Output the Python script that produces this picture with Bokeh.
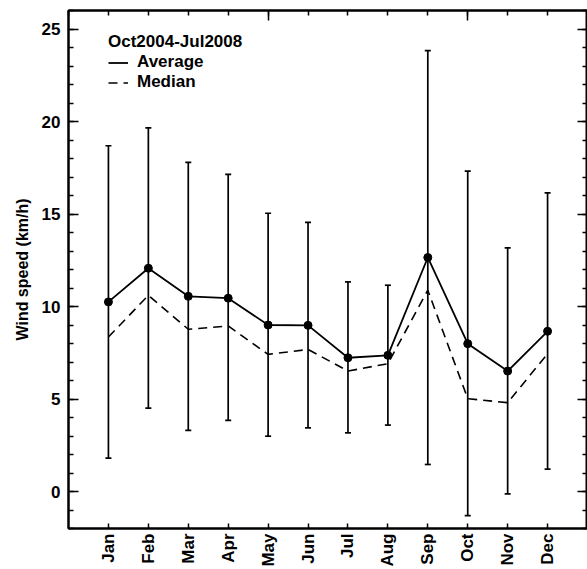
import math

from bokeh.plotting import figure
from bokeh.models import (ColumnDataSource, Whisker, TeeHead, FixedTicker,
                          LinearAxis, Legend, LegendItem, Range1d)
from bokeh.embed import file_html
from bokeh.resources import INLINE

# Monthly wind speed statistics, Oct 2004 - Jul 2008 (km/h)
months = ["Jan", "Feb", "Mar", "Apr", "May", "Jun",
          "Jul", "Aug", "Sep", "Oct", "Nov", "Dec"]
month_num = list(range(1, 13))
average = [10.25, 12.07, 10.55, 10.45, 9.0, 8.98, 7.23, 7.36, 12.65, 7.99, 6.51, 8.66]
median = [8.35, 10.6, 8.77, 8.95, 7.41, 7.68, 6.51, 6.91, 10.88, 5.02, 4.8, 7.45]
upper = [18.69, 19.66, 17.79, 17.14, 15.04, 14.55, 11.33, 11.15, 23.83, 17.32, 13.17, 16.14]
lower = [1.8, 4.51, 3.3, 3.84, 2.99, 3.44, 3.17, 3.59, 1.46, -1.3, -0.13, 1.21]

y_major = [0, 5, 10, 15, 20, 25]
y_minor = list(range(-2, 27))
x_major_top = [5, 10]
x_minor_top = list(range(0, 14))

FONT = "Liberation Sans"
FS = "17px"
INK = "black"

src = ColumnDataSource(dict(x=month_num, avg=average, med=median,
                            up=upper, lo=lower))

p = figure(width=587, height=569, output_backend="svg", toolbar_location=None,
           x_range=Range1d(0, 13), y_range=Range1d(-2, 26),
           min_border_left=68, min_border_right=0, min_border_top=10,
           min_border_bottom=41, x_axis_location="below")
p.xgrid.visible = False
p.ygrid.visible = False
p.outline_line_color = INK
p.outline_line_width = 2
p.background_fill_color = "white"
p.border_fill_color = "white"

# bottom axis: month names, rotated
xb = p.xaxis[0]
xb.ticker = FixedTicker(ticks=month_num, minor_ticks=[])
xb.major_label_overrides = {m: name for m, name in zip(month_num, months)}
xb.major_label_orientation = math.pi / 2
xb.major_tick_in = 5
xb.major_tick_out = 0
xb.major_label_standoff = 5
xb.axis_line_width = 2
xb.axis_line_color = INK
xb.major_tick_line_width = 1.5
xb.major_tick_line_color = INK
xb.major_label_text_font = FONT
xb.major_label_text_font_style = "bold"
xb.major_label_text_font_size = FS
xb.major_label_text_color = INK

# left axis
yl = p.yaxis[0]
yl.ticker = FixedTicker(ticks=y_major, minor_ticks=y_minor)
yl.major_tick_in = 10
yl.major_tick_out = 0
yl.minor_tick_in = 5
yl.minor_tick_out = 0
yl.axis_line_width = 2
yl.axis_line_color = INK
yl.major_tick_line_width = 1.5
yl.minor_tick_line_width = 1.5
yl.major_tick_line_color = INK
yl.minor_tick_line_color = INK
yl.major_label_standoff = 8
yl.major_label_text_font = FONT
yl.major_label_text_font_style = "bold"
yl.major_label_text_font_size = FS
yl.major_label_text_color = INK
yl.axis_label = "Wind speed (km/h)"
yl.axis_label_text_font = FONT
yl.axis_label_text_font_style = "bold"
yl.axis_label_text_font_size = "16px"
yl.axis_label_text_color = INK
yl.axis_label_standoff = 8

# mirrored tick marks on top and right, no labels
top = LinearAxis(ticker=FixedTicker(ticks=x_major_top, minor_ticks=x_minor_top),
                 major_tick_in=10, major_tick_out=0, minor_tick_in=5, minor_tick_out=0,
                 major_label_text_font_size="0px", major_label_standoff=0,
                 axis_line_width=2, axis_line_color=INK,
                 major_tick_line_width=1.5, minor_tick_line_width=1.5,
                 major_tick_line_color=INK, minor_tick_line_color=INK)
top.major_label_overrides = {t: "" for t in x_major_top}
p.add_layout(top, "above")

right = LinearAxis(ticker=FixedTicker(ticks=y_major, minor_ticks=y_minor),
                   major_tick_in=10, major_tick_out=0, minor_tick_in=5, minor_tick_out=0,
                   major_label_text_font_size="0px", major_label_standoff=0,
                   axis_line_width=2, axis_line_color=INK,
                   major_tick_line_width=1.5, minor_tick_line_width=1.5,
                   major_tick_line_color=INK, minor_tick_line_color=INK)
right.major_label_overrides = {t: "" for t in y_major}
p.add_layout(right, "right")

# error bars
wh = Whisker(base="x", upper="up", lower="lo", source=src,
             line_color=INK, line_width=1.7,
             upper_head=TeeHead(size=6, line_width=1.7, line_color=INK),
             lower_head=TeeHead(size=6, line_width=1.7, line_color=INK))
p.add_layout(wh)

avg_line = p.line("x", "avg", source=src, line_color=INK, line_width=1.8)
med_line = p.line("x", "med", source=src, line_color=INK, line_width=1.6,
                  line_dash="9 6")
p.scatter("x", "avg", source=src, size=8, color=INK)

legend = Legend(items=[LegendItem(label="Average", renderers=[avg_line]),
                       LegendItem(label="Median", renderers=[med_line])],
                location=(40, 436), title="Oct2004-Jul2008",
                title_text_font=FONT, title_text_font_style="bold",
                title_text_font_size=FS, title_text_color=INK, title_standoff=0,
                label_text_font=FONT, label_text_font_style="bold",
                label_text_font_size=FS, label_text_color=INK, label_standoff=9,
                glyph_width=20, glyph_height=19, label_height=19, spacing=0,
                padding=0, margin=0, border_line_color=None,
                background_fill_alpha=0)
p.add_layout(legend)

open("out.html", "w").write(file_html(p, INLINE))
